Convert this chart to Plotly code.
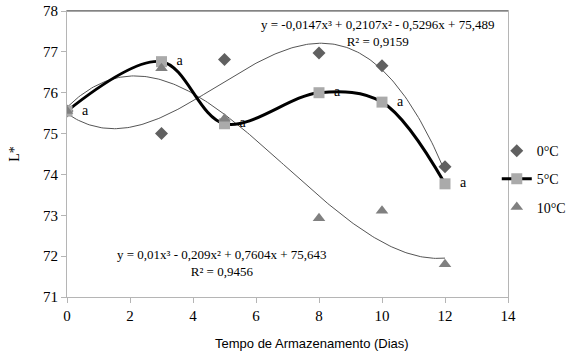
import numpy as np
import plotly.graph_objects as go

days = [0, 3, 5, 8, 10, 12]
l_0c = [75.55, 75.0, 76.81, 76.97, 76.66, 74.19]
l_5c = [75.55, 76.76, 75.24, 76.0, 75.77, 73.77]
l_10c = [75.55, 76.6, 75.36, 72.93, 73.11, 71.8]
labels_5c = ["a", "a", "a", "a", "a", "a"]

# trendline coefficients printed on the chart (highest power first)
coef_0c = [-0.0147, 0.2107, -0.5296, 75.489]
coef_10c = [0.01, -0.209, 0.7604, 75.643]
eq_0c = "y = -0,0147x³ + 0,2107x² - 0,5296x + 75,489<br>R² = 0,9159"
eq_10c = "y = 0,01x³ - 0,209x² + 0,7604x + 75,643<br>R² = 0,9456"

x_tick_vals = [0, 2, 4, 6, 8, 10, 12, 14]
y_tick_vals = [71, 72, 73, 74, 75, 76, 77, 78]

serif = "Liberation Serif, Times New Roman, serif"
sans = "Liberation Sans, Arial, sans-serif"

xfit = np.linspace(0, 12, 200)
fig = go.Figure()
fig.add_trace(go.Scatter(x=xfit, y=np.polyval(coef_0c, xfit), mode="lines",
                         line=dict(color="#555555", width=1), showlegend=False, hoverinfo="skip"))
fig.add_trace(go.Scatter(x=xfit, y=np.polyval(coef_10c, xfit), mode="lines",
                         line=dict(color="#555555", width=1), showlegend=False, hoverinfo="skip"))
fig.add_trace(go.Scatter(x=days, y=l_0c, mode="markers", name="0°C", legendgroup="g0",
                         marker=dict(symbol="diamond", size=10, color="#606060")))
fig.add_trace(go.Scatter(x=days, y=l_5c, mode="lines+markers+text", name="5°C", legendgroup="g5",
                         line=dict(color="black", width=3, shape="spline", smoothing=1),
                         marker=dict(symbol="square", size=11, color="#aaaaaa"),
                         text=["  " + t for t in labels_5c], textposition="middle right",
                         textfont=dict(family=serif, size=14, color="black")))
fig.add_trace(go.Scatter(x=days, y=l_10c, mode="markers", name="10°C", legendgroup="g10",
                         marker=dict(symbol="triangle-up", size=11, color="#808080")))

fig.add_annotation(x=9.85, y=77.47, text=eq_0c, showarrow=False,
                   font=dict(family=serif, size=13, color="black"))
fig.add_annotation(x=4.93, y=71.84, text=eq_10c, showarrow=False,
                   font=dict(family=serif, size=13, color="black"))
fig.add_annotation(x=0.555, y=-0.13, xref="paper", yref="paper", yanchor="top",
                   text="Tempo de Armazenamento (Dias)", showarrow=False,
                   font=dict(family=sans, size=13, color="black"))
fig.add_shape(type="line", xref="paper", yref="paper", x0=0, x1=1, y0=1, y1=1,
              line=dict(color="#505050", width=1))

fig.update_layout(
    width=571, height=356,
    margin=dict(l=67, r=63, t=11, b=59, autoexpand=False),
    plot_bgcolor="white", paper_bgcolor="white",
    font=dict(family=serif, size=14, color="black"),
    legend=dict(xref="container", yref="container", x=0.87, y=0.497,
                xanchor="left", yanchor="middle", tracegroupgap=7,
                font=dict(family=serif, size=14, color="black"),
                bgcolor="rgba(0,0,0,0)"),
)
fig.update_xaxes(range=[0, 14], tickvals=x_tick_vals, showgrid=False, zeroline=False,
                 showline=True, linecolor="#b5b5b5", linewidth=1, mirror=True,
                 ticks="outside", ticklen=5, tickcolor="#b5b5b5",
                 tickfont=dict(family=serif, size=15))
fig.update_yaxes(range=[71, 78], tickvals=y_tick_vals, showgrid=False, zeroline=False,
                 showline=True, linecolor="#b5b5b5", linewidth=1, mirror=True,
                 ticks="outside", ticklen=5, tickcolor="#b5b5b5",
                 tickfont=dict(family=serif, size=15),
                 title=dict(text="L*", font=dict(family=serif, size=14), standoff=20))

fig.write_html("out.html")
